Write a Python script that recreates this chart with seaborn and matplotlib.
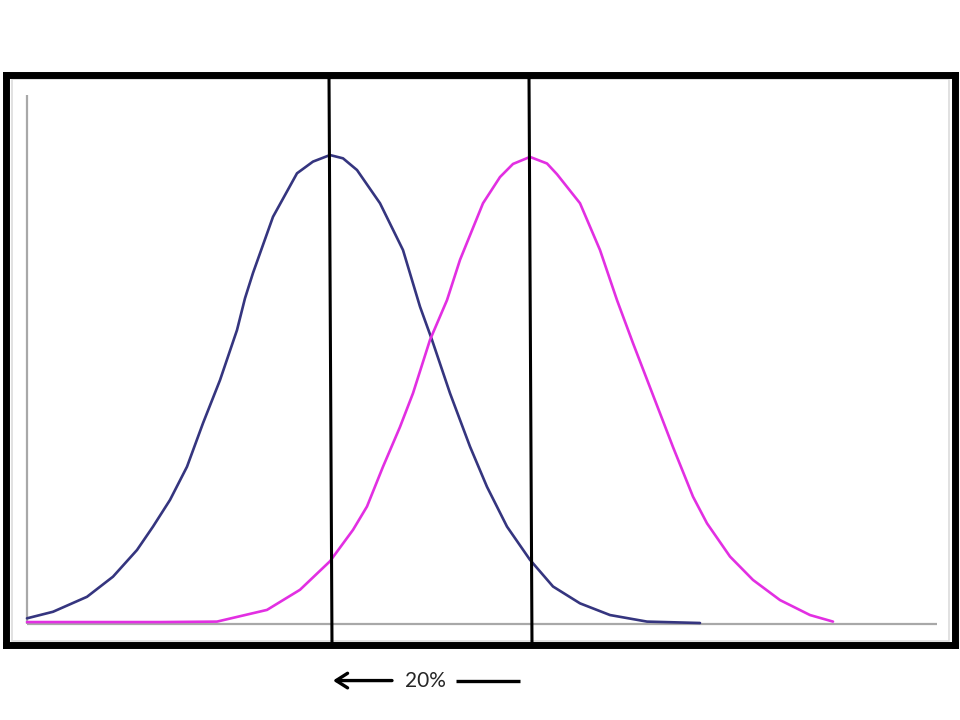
import matplotlib.pyplot as plt
import matplotlib.patches as mpatches
import pandas as pd
import seaborn as sns

# curve points (x in %, y = height with the peak at 100)
navy_x = [0.0, 2.6, 6.0, 8.6, 11.0, 12.6, 14.3, 16.0, 17.6, 19.3, 21.0, 21.8, 22.6,
          24.6, 27.0, 28.6, 30.3, 31.6, 33.0, 35.3, 37.6, 39.3, 40.5, 42.3, 44.3,
          46.0, 48.0, 50.3, 52.6, 55.3, 58.3, 62.0, 67.3]
navy_y = [1.0, 2.4, 5.6, 9.9, 15.6, 20.6, 26.3, 33.4, 42.7, 51.9, 62.6, 69.4, 74.8,
          86.8, 96.1, 98.6, 100.0, 99.3, 96.8, 89.7, 79.7, 67.6, 60.5, 49.1, 37.7,
          29.1, 20.6, 13.5, 7.8, 4.2, 1.7, 0.3, 0.0]
pink_x = [0.0, 7.3, 13.3, 19.0, 24.0, 27.3, 30.3, 32.6, 34.0, 35.6, 37.3, 38.6,
          40.3, 42.0, 43.3, 45.6, 47.3, 48.6, 50.3, 52.0, 53.0, 55.3, 57.3, 59.0,
          60.6, 62.6, 64.6, 66.6, 68.0, 70.3, 72.6, 75.3, 78.3, 80.6]
pink_y = [0.2, 0.2, 0.2, 0.3, 2.8, 7.1, 13.2, 19.9, 24.9, 33.4, 41.9, 49.1,
          60.5, 69.0, 77.6, 89.7, 95.3, 98.1, 99.6, 98.2, 95.9, 89.7, 79.7, 69.0,
          59.8, 48.7, 37.6, 27.0, 21.3, 14.2, 9.2, 4.9, 1.7, 0.3]
peaks = [30.3, 50.3]

df = pd.concat([
    pd.DataFrame({"x": navy_x, "y": navy_y, "curve": "navy"}),
    pd.DataFrame({"x": pink_x, "y": pink_y, "curve": "pink"}),
])

sns.set_style("white")
plt.rcParams["font.family"] = ["Lato", "DejaVu Sans"]

fig = plt.figure(figsize=(9.6, 7.2), dpi=100)
ax = fig.add_axes([0.00573, 0.10417, 0.98906, 0.79097])

y_lo, y_hi = -4.70, 117.0

# faint gray axes of the inner chart
ax.plot([0, 0], [-0.2, 112.8], color="#a8a8a8", lw=1.6, solid_capstyle="butt")
ax.plot([0, 91], [-0.2, -0.2], color="#a8a8a8", lw=1.6, solid_capstyle="butt")

sns.lineplot(data=df, x="x", y="y", hue="curve", palette=["#35357f", "#e22fe2"],
             linewidth=1.9, legend=False, ax=ax, sort=False)
for ln in ax.lines[2:]:
    ln.set_solid_joinstyle("round")

ax.set_xlim(-2.15, 92.8)
ax.set_ylim(y_lo, y_hi)

# black vertical markers at the peaks (slightly slanted as in the original)
for p in peaks:
    ax.plot([p - 0.1, p + 0.2], [y_hi, y_lo], color="black", lw=2.2)

# thick black outer frame with a soft inner shadow
for s in ax.spines.values():
    s.set_visible(True)
    s.set_color("black")
    s.set_linewidth(5.0)
ax.add_patch(mpatches.Rectangle((-1.55, -3.85), 93.75, 120.1, fill=False,
                                edgecolor="#dcdcdc", lw=1.2, zorder=1))
ax.set_xticks([])
ax.set_yticks([])
ax.set_xlabel(None)
ax.set_ylabel(None)

# arrow + label below the frame
ay = -12.3
ax.annotate("", xy=(peaks[0] + 0.3, ay), xytext=(peaks[0] + 6.2, ay),
            arrowprops=dict(arrowstyle="->, head_length=0.55, head_width=0.35",
                            lw=2.4, color="black", shrinkA=0, shrinkB=0),
            annotation_clip=False, fontsize=15)
ax.text(peaks[0] + 9.5, ay, f"{peaks[1] - peaks[0]:.0f}%", fontsize=15,
        ha="center", va="center", clip_on=False)
ax.plot([peaks[1] - 7.4, peaks[1] - 1.0], [ay, ay], color="black", lw=2.4,
        clip_on=False, solid_capstyle="butt")

fig.savefig("out.png", dpi=100)
